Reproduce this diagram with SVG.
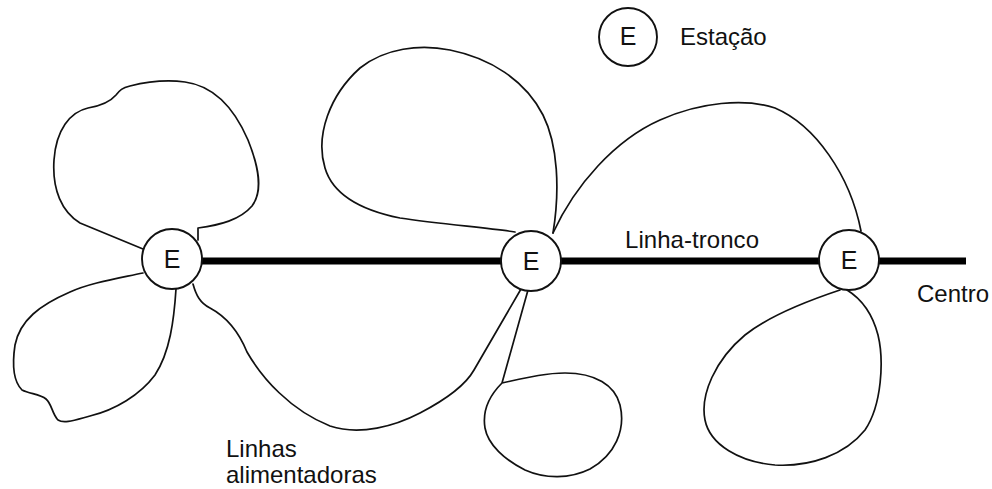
<svg xmlns="http://www.w3.org/2000/svg" width="992" height="489" viewBox="0 0 992 489">
  <style>
    .feeder { fill: none; stroke: #111; stroke-width: 1.7; stroke-linejoin: round; stroke-linecap: round; }
    .trunk { fill: none; stroke: #000; stroke-width: 7; }
    .station { fill: #fff; stroke: #111; stroke-width: 1.9; }
    .lbl { font-family: "Liberation Sans", Arial, Helvetica, sans-serif; font-size: 24px; fill: #111; }
    .mark { font-family: "Liberation Sans", Arial, Helvetica, sans-serif; font-size: 25px; fill: #111; text-anchor: middle; }
  </style>

  <!-- trunk line and feeder loops -->
  <g id="connectors">
    <line class="trunk" x1="200" y1="261" x2="966" y2="261"/>

    <!-- station 1: upper-left loop -->
    <path class="feeder" d="M143,249 L80,223 C62,212 52,190 54,160 C56,130 70,112 88,108 C100,106 110,102 116,95 C120,90 122,88 130,86 C150,81 170,80 185,82 C215,86 235,110 248,140 C258,165 264,190 252,206 C240,220 220,225 198,228 L198,240"/>
    <!-- station 1: lower-left loop -->
    <path class="feeder" d="M143,273 C115,279 90,283 70,292 C40,305 20,320 15,345 C12,365 14,382 22,390 C30,394 40,394 46,399 C52,404 52,414 58,420 C64,424 75,420 90,416 C115,410 140,395 155,375 C170,352 174,320 176,289"/>
    <!-- station 1 to station 2: long feeder -->
    <path class="feeder" d="M193,284 C196,295 200,303 210,308 C225,316 238,330 247,352 C262,378 290,410 330,426 C360,436 395,426 420,413 C445,400 465,386 474,370 L521,289"/>

    <!-- station 2: upper loop -->
    <path class="feeder" d="M515,232 C490,228 440,224 400,218 C360,210 333,195 325,168 C315,135 330,95 360,68 C385,48 420,44 450,50 C490,58 525,80 543,115 C558,145 560,190 553,233"/>
    <!-- station 2 to station 3: arc -->
    <path class="feeder" d="M553,233 C575,185 615,140 660,120 C700,102 745,98 775,108 C815,125 850,175 861,231"/>
    <!-- station 2: lower loop -->
    <path class="feeder" d="M528,290 L502,383 C525,378 545,373 565,373 C595,373 615,385 620,405 C626,430 615,455 590,469 C570,479 545,479 525,470 C505,460 488,445 485,428 C482,410 490,395 502,383"/>

    <!-- station 3: lower loop -->
    <path class="feeder" d="M840,290 C810,300 770,315 745,335 C715,360 700,395 705,420 C710,445 740,462 775,465 C810,467 845,455 865,430 C882,405 884,360 878,335 C872,312 860,298 847,290"/>
  </g>

  <g id="station-1">
    <circle class="station" cx="172" cy="259" r="30"/>
    <text class="mark" x="172" y="268">E</text>
  </g>
  <g id="station-2">
    <circle class="station" cx="531" cy="261" r="30"/>
    <text class="mark" x="531" y="270">E</text>
  </g>
  <g id="station-3">
    <circle class="station" cx="849" cy="260" r="30"/>
    <text class="mark" x="849" y="269">E</text>
  </g>

  <g id="legend">
    <circle class="station" cx="628" cy="37" r="29"/>
    <text class="mark" x="628" y="45">E</text>
    <text class="lbl" x="680" y="45">Estação</text>
  </g>

  <g id="labels">
    <text class="lbl" x="625" y="248" textLength="134">Linha-tronco</text>
    <text class="lbl" x="917" y="302">Centro</text>
    <text class="lbl" x="226" y="457">Linhas</text>
    <text class="lbl" x="226" y="483">alimentadoras</text>
  </g>
</svg>
